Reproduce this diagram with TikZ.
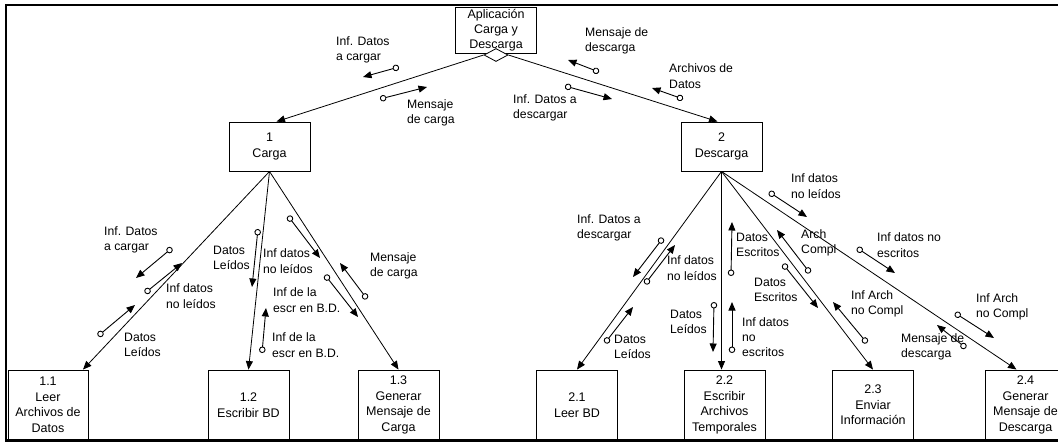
\documentclass[tikz,border=0pt]{standalone}
\usepackage{fontspec}
\setmainfont{Liberation Sans}
\usetikzlibrary{arrows.meta,shapes.geometric,calc}
\newcommand\flowarrow[3]{\coordinate (#1s) at #2; \coordinate (#1e) at #3; \draw[flow] (#1s) -- (#1e);}
\begin{document}
\begin{tikzpicture}[x=1pt,y=-1pt,
  box/.style={draw,line width=0.9pt,minimum width=81pt,inner sep=0pt,align=center,font=\fontsize{12.5}{15.5}\selectfont},
  lbl/.style={anchor=west,align=left,inner sep=0pt,font=\fontsize{12.2}{15.3}\selectfont},
  main/.style={line width=0.8pt,-{Triangle[length=8.5pt,width=7pt]}},
  flow/.style={line width=0.9pt,{Circle[open,length=6.5pt,width=6.5pt]}-{Triangle[length=8.5pt,width=7pt]}},
]
\useasboundingbox (0,0) rectangle (1058,442);
% frame
\draw[line width=2.5pt] (1058,5) -- (6,5) -- (6,440.5) -- (1058,440.5);

% boxes
\node[box,minimum height=46pt,font=\fontsize{12.5}{14.8}\selectfont] (app) at (496,30) {Aplicación\\Carga y\\Descarga};
\node[diamond,draw,fill=white,minimum width=24pt,minimum height=13pt,inner sep=0pt,line width=0.8pt] (dia) at (496,55) {};
\node[box,minimum height=49pt] (carga) at (269.5,146.5) {1\\Carga};
\node[box,minimum height=49pt] (desc) at (721.5,146.5) {2\\Descarga};
\node[box,minimum height=70pt,minimum width=80pt] (b11) at (48,405) {1.1\\Leer\\Archivos de\\Datos};
\node[box,minimum height=70pt] (b12) at (248.5,405) {1.2\\Escribir BD};
\node[box,minimum height=70pt] (b13) at (398.5,405) {1.3\\Generar\\Mensaje de\\Carga};
\node[box,minimum height=70pt] (b21) at (577,405) {2.1\\Leer BD};
\node[box,minimum height=70pt] (b22) at (724.5,405) {2.2\\Escribir\\Archivos\\Temporales};
\node[box,minimum height=70pt] (b23) at (873,405) {2.3\\Enviar\\Información};
\node[box,minimum height=70pt] (b24) at (1025.5,405) {2.4\\Generar\\Mensaje de\\Descarga};

% main connectors
\draw[main] (dia.west) -- ($(carga.north)+(7,0)$);
\draw[main] (dia.east) -- ($(desc.north)+(-4,0)$);
\draw[main] (carga.south) -- ($(b11.north)+(35,0)$);
\draw[main] (carga.south) -- (b12.north);
\draw[main] (carga.south) -- (b13.north);
\draw[main] (desc.south) -- (b21.north);
\draw[main] (desc.south) -- (desc.south |- b22.north);
\draw[main] (desc.south) -- (b23.north);
\draw[main] (desc.south) -- ($(b24.north)+(-9,0)$);

% top labels
\node[lbl] (t1) at (336,50) {Inf. Datos\\a cargar};
\node[lbl] (t2) at (407,113) {Mensaje\\de carga};
\node[lbl] (t3) at (585,41) {Mensaje de\\descarga};
\node[lbl] (t4) at (669,76) {Archivos de\\Datos};
\node[lbl] (t5) at (513,108) {Inf. Datos a\\descargar};
\flowarrow{a1}{(399,67)}{(363,77)}
\flowarrow{a2}{(380,99)}{(427,87)}
\flowarrow{a3}{(599,72)}{(568,60)}
\flowarrow{a4}{(683,99)}{(652,88)}
\flowarrow{a5}{(565,86)}{(612,99)}

% carga branch labels
\node[lbl] (l1) at (104,240) {Inf. Datos\\a cargar};
\node[lbl] (l2) at (166,296) {Inf datos\\no leídos};
\node[lbl] (l3) at (124,345) {Datos\\Leídos};
\node[lbl] (l4) at (213,258) {Datos\\Leídos};
\node[lbl] (l5) at (263,261) {Inf datos\\no leídos};
\node[lbl] (l6) at (273,300) {Inf de la\\escr en B.D.};
\node[lbl] (l7) at (272,345) {Inf de la\\escr en B.D.};
\node[lbl] (l8) at (370,266) {Mensaje\\de carga};
\flowarrow{b1}{(172,248)}{(136,278)}
\flowarrow{b2}{(145,293)}{(182,263)}
\flowarrow{b3}{(98,336)}{(135,305)}
\flowarrow{b4}{(258,229)}{(252,287)}
\flowarrow{b5}{(288,216)}{(320,258)}
\flowarrow{b6}{(325,275)}{(358,317)}
\flowarrow{b7}{(262,353)}{(266,308)}
\flowarrow{b8}{(367,299)}{(340,263)}

% descarga branch labels
\node[lbl] (d1) at (791,186) {Inf datos\\no leídos};
\node[lbl] (d2) at (577,228) {Inf. Datos a\\descargar};
\node[lbl] (d3) at (667,268) {Inf datos\\no leídos};
\node[lbl] (d4) at (736,245) {Datos\\Escritos};
\node[lbl] (d5) at (801,243) {Arch\\Compl};
\node[lbl] (d6) at (877,245) {Inf datos no\\escritos};
\node[lbl] (d7) at (754,290) {Datos\\Escritos};
\node[lbl] (d8) at (614,347) {Datos\\Leídos};
\node[lbl] (d9) at (670,322) {Datos\\Leídos};
\node[lbl] (d10) at (742,337) {Inf datos\\no\\escritos};
\node[lbl] (d11) at (851,304) {Inf Arch\\no Compl};
\node[lbl] (d12) at (901,347) {Mensaje de\\descarga};
\node[lbl] (d13) at (976,307) {Inf Arch\\no Compl};
\flowarrow{c1}{(769,192)}{(807,217)}
\flowarrow{c2}{(663,238)}{(633,277)}
\flowarrow{c3}{(645,284)}{(675,245)}
\flowarrow{c4}{(731,276)}{(732,222)}
\flowarrow{c5}{(810,273)}{(777,230)}
\flowarrow{c6}{(857,248)}{(895,273)}
\flowarrow{c7}{(783,264)}{(818,308)}
\flowarrow{c8}{(605,343)}{(633,307)}
\flowarrow{c9}{(714,302)}{(713,352)}
\flowarrow{c10}{(732,353)}{(732,302)}
\flowarrow{c11}{(867,343)}{(833,302)}
\flowarrow{c12}{(966,348)}{(937,325)}
\flowarrow{c13}{(955,313)}{(994,338)}
\end{tikzpicture}
\end{document}
